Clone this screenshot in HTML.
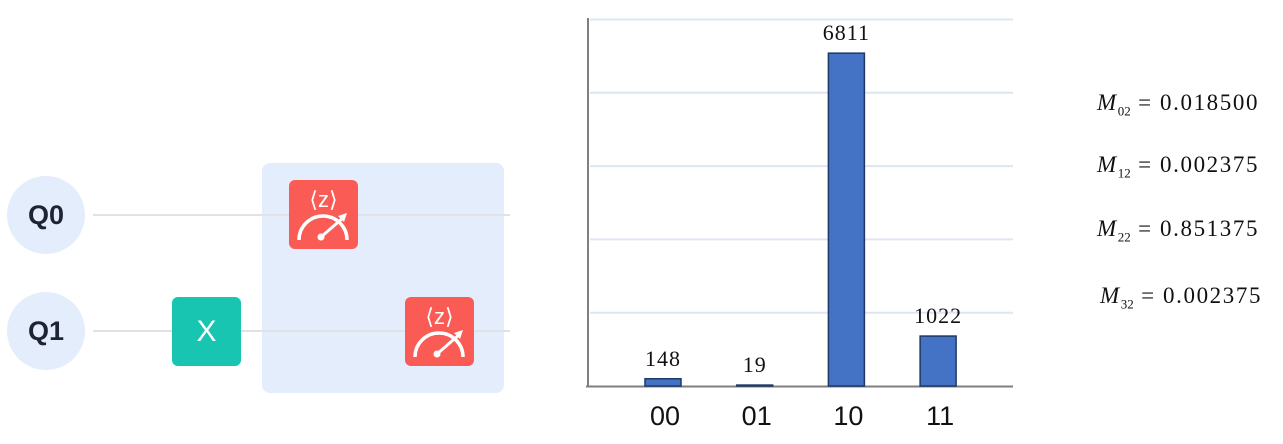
<!DOCTYPE html>
<html><head><meta charset="utf-8"><style>
body{margin:0;width:1283px;height:444px;background:#fff;overflow:hidden;position:relative;font-family:"Liberation Sans",sans-serif}
.abs{position:absolute}
.q{position:absolute;width:78px;height:78px;border-radius:50%;background:#e3edfc;color:#1e2433;font-weight:bold;font-size:27px;line-height:78px;text-align:center}
.wire{position:absolute;height:2px;background:#e0e2e6}
.gate{position:absolute;width:69px;height:69px;border-radius:6px}
.meas{background:#fa5c55}
.m{font-family:"Liberation Serif","DejaVu Serif",serif;font-size:23px;letter-spacing:1.6px;position:absolute;left:1097px;color:#111}
.m i sub{font-style:normal;font-size:13px;letter-spacing:0}
</style></head><body>
<div class="abs" style="left:262px;top:163px;width:242px;height:230px;background:#e3edfc;border-radius:8px"></div>
<div class="wire" style="left:93px;top:214px;width:417px"></div>
<div class="wire" style="left:93px;top:330px;width:417px"></div>
<div class="q" style="left:7px;top:176px">Q0</div>
<div class="q" style="left:7px;top:292px">Q1</div>
<div class="gate" style="left:172px;top:297px;background:#17c5b0;color:#fff;font-size:30px;line-height:69px;text-align:center">X</div>
<div class="gate meas" style="left:289px;top:180px"><svg width="69" height="69" viewBox="0 0 69 69"><text x="34.5" y="27" text-anchor="middle" fill="#fff" font-size="22" font-family="Liberation Sans">⟨z⟩</text><path d="M10 60 A24 24 0 0 1 58 60" stroke="#fff" stroke-width="3.5" fill="none"/><line x1="32" y1="57" x2="55" y2="37" stroke="#fff" stroke-width="3"/><circle cx="32" cy="57" r="3.5" fill="#fff"/><path d="M58 33 L49 36 L55 42Z" fill="#fff"/></svg></div>
<div class="gate meas" style="left:405px;top:297px"><svg width="69" height="69" viewBox="0 0 69 69"><text x="34.5" y="27" text-anchor="middle" fill="#fff" font-size="22" font-family="Liberation Sans">⟨z⟩</text><path d="M10 60 A24 24 0 0 1 58 60" stroke="#fff" stroke-width="3.5" fill="none"/><line x1="32" y1="57" x2="55" y2="37" stroke="#fff" stroke-width="3"/><circle cx="32" cy="57" r="3.5" fill="#fff"/><path d="M58 33 L49 36 L55 42Z" fill="#fff"/></svg></div>

<svg id="chart" class="abs" style="left:0;top:0" width="1283" height="444"></svg>

<div class="m" style="top:90px"><i>M<sub>02</sub></i> = 0.018500</div>
<div class="m" style="top:152px"><i>M<sub>12</sub></i> = 0.002375</div>
<div class="m" style="top:216px"><i>M<sub>22</sub></i> = 0.851375</div>
<div class="m" style="top:283px;left:1100px"><i>M<sub>32</sub></i> = 0.002375</div>

<script>
const categories = ["00","01","10","11"];
const counts = [148,19,6811,1022];
const gridTicks = [0,1500,3000,4500,6000,7500];
const NS="http://www.w3.org/2000/svg";
const svg=document.getElementById('chart');
const base=386, top0=19.5, maxV=7500;
function y(v){return base-(v/maxV)*(base-top0);}
function x(i){return 663+91.7*i;}
function mk(t,a){const e=document.createElementNS(NS,t);for(const k in a)e.setAttribute(k,a[k]);svg.appendChild(e);return e;}
gridTicks.forEach(t=>{if(t===0)return;const l=mk('line',{x1:590,x2:1013,y1:y(t),y2:y(t),stroke:'#dde5f3','stroke-width':2});

});
const ya=mk('line',{x1:588,x2:588,y1:18,y2:387,stroke:'#7f7f7f','stroke-width':2});


const xa=mk('line',{x1:586,x2:1013,y1:386.5,y2:386.5,stroke:'#7f7f7f','stroke-width':2});


categories.forEach((c,i)=>{
 const cx=x(i),yt=y(counts[i]);
 const r=mk('rect',{x:cx-18,y:yt,width:36,height:base-yt,fill:'#4472c4',stroke:'#1f3864','stroke-width':1.5});
 
 
 const v=mk('text',{x:cx,y:yt-13,'text-anchor':'middle','font-size':22,'letter-spacing':1,'font-family':'Liberation Serif, serif',fill:'#111'});
 v.textContent=counts[i];
 
 
 const l=mk('text',{x:cx+2,y:425,'text-anchor':'middle','font-size':27,'font-family':'Liberation Sans, sans-serif',fill:'#111'});
 l.textContent=c;
 
 
});
</script>
</body></html>
